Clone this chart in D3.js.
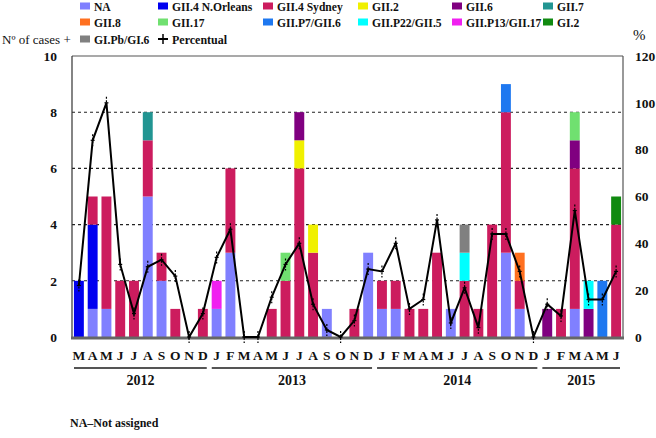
<!DOCTYPE html>
<html><head><meta charset="utf-8">
<script src="https://cdn.jsdelivr.net/npm/d3@7/dist/d3.min.js"></script>
<style>
body{margin:0;background:#fff;}
svg text{font-family:"Liberation Serif","Times New Roman",serif;font-weight:bold;fill:#111;}
</style></head>
<body><svg id="c" width="656" height="438"></svg>
<script>
// ---- data ----
const months = ["M","A","M","J","J","A","S","O","N","D",
  "J","F","M","A","M","J","J","A","S","O","N","D",
  "J","F","M","A","M","J","J","A","S","O","N","D",
  "J","F","M","A","M","J"];
const years = ["2012","2013","2014","2015"];
const yearSpans = [[0,9],[10,21],[22,33],[34,39]];
const seriesNames = ["NA","GII.4 N.Orleans","GII.4 Sydney","GII.2","GII.6","GII.7","GII.8","GII.17","GII.P7/GII.6","GII.P22/GII.5","GII.P13/GII.17","GI.2","GI.Pb/GI.6"];
const seriesColors = ["#8080FF","#0000F0","#CC1C5E","#F0F000","#800080","#229592","#FF7020","#70E070","#1E78F0","#00FFFF","#F020F0","#108A10","#808080"];
const NA =        [0,1,1,0,0,5,2,0,0,0, 1,3,0,0,0,0,0,0,1,0,0,3, 1,1,0,0,0,1,0,0,0,3,1,0, 0,0,1,0,0,0];
const NOrleans =  [2,3,0,0,0,0,0,0,0,0, 0,0,0,0,0,0,0,0,0,0,0,0, 0,0,0,0,0,0,0,0,0,0,0,0, 0,0,0,0,0,0];
const Sydney =    [0,1,4,2,2,2,1,1,0,1, 0,3,0,0,1,2,6,3,0,0,1,0, 1,1,1,1,3,0,2,1,4,5,1,0, 0,1,5,0,0,4];
const GII2 =      [0,0,0,0,0,0,0,0,0,0, 0,0,0,0,0,0,1,1,0,0,0,0, 0,0,0,0,0,0,0,0,0,0,0,0, 0,0,0,0,0,0];
const GII6 =      [0,0,0,0,0,0,0,0,0,0, 0,0,0,0,0,0,1,0,0,0,0,0, 0,0,0,0,0,0,0,0,0,0,0,0, 1,0,1,1,0,0];
const GII7 =      [0,0,0,0,0,1,0,0,0,0, 0,0,0,0,0,0,0,0,0,0,0,0, 0,0,0,0,0,0,0,0,0,0,0,0, 0,0,0,0,0,0];
const GII8 =      [0,0,0,0,0,0,0,0,0,0, 0,0,0,0,0,0,0,0,0,0,0,0, 0,0,0,0,0,0,0,0,0,0,1,0, 0,0,0,0,0,0];
const GII17 =     [0,0,0,0,0,0,0,0,0,0, 0,0,0,0,0,1,0,0,0,0,0,0, 0,0,0,0,0,0,0,0,0,0,0,0, 0,0,1,0,0,0];
const P7GII6 =    [0,0,0,0,0,0,0,0,0,0, 0,0,0,0,0,0,0,0,0,0,0,0, 0,0,0,0,0,0,0,0,0,1,0,0, 0,0,0,0,2,0];
const P22GII5 =   [0,0,0,0,0,0,0,0,0,0, 0,0,0,0,0,0,0,0,0,0,0,0, 0,0,0,0,0,0,1,0,0,0,0,0, 0,0,0,1,0,0];
const P13GII17 =  [0,0,0,0,0,0,0,0,0,0, 1,0,0,0,0,0,0,0,0,0,0,0, 0,0,0,0,0,0,0,0,0,0,0,0, 0,0,0,0,0,0];
const GI2 =       [0,0,0,0,0,0,0,0,0,0, 0,0,0,0,0,0,0,0,0,0,0,0, 0,0,0,0,0,0,0,0,0,0,0,0, 0,0,0,0,0,1];
const GIPb =      [0,0,0,0,0,0,0,0,0,0, 0,0,0,0,0,0,0,0,0,0,0,0, 0,0,0,0,0,0,1,0,0,0,0,0, 0,0,0,0,0,0];
const percentual = [22,84,100,31,10,30,33,26,0,10, 34,46,0,0,17,31,40,14,3,0,7,29,
  28,40,12,16,50,6,21,4,44,44,28,0, 14,9,54,16,16,28];
const leftTicks = [0,2,4,6,8,10];
const rightTicks = [0,20,40,60,80,100,120];

// ---- build table ----
const seriesValues = [NA,NOrleans,Sydney,GII2,GII6,GII7,GII8,GII17,P7GII6,P22GII5,P13GII17,GI2,GIPb];
const table = months.map((m,i)=>{const o={i:i}; seriesNames.forEach((s,k)=>o[s]=seriesValues[k][i]); return o;});
const stack = d3.stack().keys(seriesNames)(table);

const svg = d3.select("#c");
const L=72, R=623, T=56, B=337;
const x = d3.scaleBand().domain(months.map((d,i)=>i)).range([L,R]).paddingInner(0.28).paddingOuter(0.14);
const y = d3.scaleLinear().domain([0,10]).range([B,T]);
const y2 = d3.scaleLinear().domain([0,120]).range([B,T]);

// grid
svg.append("g").selectAll("line").data([2,4,6,8]).join("line")
  .attr("x1",L).attr("x2",R).attr("y1",d=>y(d)).attr("y2",d=>y(d))
  .attr("stroke","#222").attr("stroke-width",1.1).attr("stroke-dasharray","3,3");

// bars
svg.append("g").selectAll("g").data(stack).join("g")
  .attr("fill",(d,k)=>seriesColors[k])
  .selectAll("rect").data(d=>d.filter(p=>p[1]>p[0])).join("rect")
  .attr("x",p=>x(p.data.i)).attr("width",x.bandwidth())
  .attr("y",p=>y(p[1])).attr("height",p=>y(p[0])-y(p[1]));

// frame
svg.append("line").attr("x1",L).attr("x2",R).attr("y1",T).attr("y2",T).attr("stroke","#555").attr("stroke-width",1.2);
svg.append("line").attr("x1",R).attr("x2",R).attr("y1",T).attr("y2",B).attr("stroke","#555").attr("stroke-width",1.2);
svg.append("line").attr("x1",L).attr("x2",L).attr("y1",T).attr("y2",B).attr("stroke","#333").attr("stroke-width",1.2);
svg.append("line").attr("x1",L-1).attr("x2",R+1).attr("y1",B+1).attr("y2",B+1).attr("stroke","#666").attr("stroke-width",3);

// percentual line
const cx = i => x(i)+x.bandwidth()/2;
svg.append("path").datum(percentual)
  .attr("d",d3.line().x((d,i)=>cx(i)).y(d=>y2(d)))
  .attr("fill","none").attr("stroke","#000").attr("stroke-width",2);
const mk = svg.append("g").selectAll("g").data(percentual).join("g")
  .attr("transform",(d,i)=>`translate(${cx(i)},${y2(d)})`);
mk.append("line").attr("y1",-6).attr("y2",6).attr("stroke","#000").attr("stroke-width",1.2).attr("stroke-dasharray","2,1.5");
mk.append("line").attr("x1",-2).attr("x2",2).attr("stroke","#000").attr("stroke-width",1.2);

// axes
const axL = svg.append("g").attr("transform",`translate(${L},0)`)
  .call(d3.axisLeft(y).tickValues(leftTicks).tickSize(0).tickPadding(15).tickFormat(d3.format("d")));
axL.select(".domain").remove();
axL.selectAll("text").style("font-size","13.5px").style("font-family","Liberation Serif").style("font-weight","bold");
const axR = svg.append("g").attr("transform",`translate(${R},0)`)
  .call(d3.axisRight(y2).tickValues(rightTicks).tickSize(0).tickPadding(12).tickFormat(d3.format("d")));
axR.select(".domain").remove();
axR.selectAll("text").style("font-size","13.5px").style("font-family","Liberation Serif").style("font-weight","bold");
const axB = svg.append("g").attr("transform",`translate(0,${B})`)
  .call(d3.axisBottom(x).tickSize(0).tickPadding(13).tickFormat(i=>months[i]));
axB.select(".domain").remove();
axB.selectAll("text").style("font-size","13.5px").style("font-family","Liberation Serif").style("font-weight","bold");

// years
const yg = svg.append("g");
yearSpans.forEach((s,k)=>{
  const x0 = x(s[0]) - x.step()*x.paddingInner()/2 + 2;
  const x1 = x(s[1]) + x.bandwidth() + x.step()*x.paddingInner()/2 - 3;
  yg.append("line").attr("x1",x0).attr("x2",x1).attr("y1",368).attr("y2",368).attr("stroke","#555").attr("stroke-width",2);
  yg.append("text").attr("x",(x0+x1)/2).attr("y",385).attr("text-anchor","middle").style("font-size","14px").text(years[k]);
});

// axis titles
svg.append("text").attr("x",2).attr("y",44).style("font-size","13px").style("font-weight","normal").text("Nº of cases +");
svg.append("text").attr("x",633).attr("y",40).style("font-size","15px").style("font-weight","normal").text("%");
svg.append("text").attr("x",70).attr("y",427).style("font-size","12px").text("NA\u2013Not assigned");

// legend
const colX = [80,158,263,358,452,543];
const rowY = [6,22,39];
const lg = svg.append("g");
seriesNames.forEach((s,k)=>{
  const r = Math.floor(k/6), c = k%6;
  lg.append("rect").attr("x",colX[c]).attr("y",rowY[r]-3.5).attr("width",10).attr("height",7).attr("fill",seriesColors[k]);
  lg.append("text").attr("x",colX[c]+14).attr("y",rowY[r]+4.5).style("font-size","11.6px").text(s);
});
// percentual legend
const px = colX[1]+5, py = rowY[2];
lg.append("line").attr("x1",px-5).attr("x2",px+5).attr("y1",py).attr("y2",py).attr("stroke","#000").attr("stroke-width",2);
lg.append("line").attr("x1",px).attr("x2",px).attr("y1",py-5).attr("y2",py+5).attr("stroke","#000").attr("stroke-width",1.5);
lg.append("text").attr("x",colX[1]+14).attr("y",py+4.5).style("font-size","12px").text("Percentual");
</script></body></html>
